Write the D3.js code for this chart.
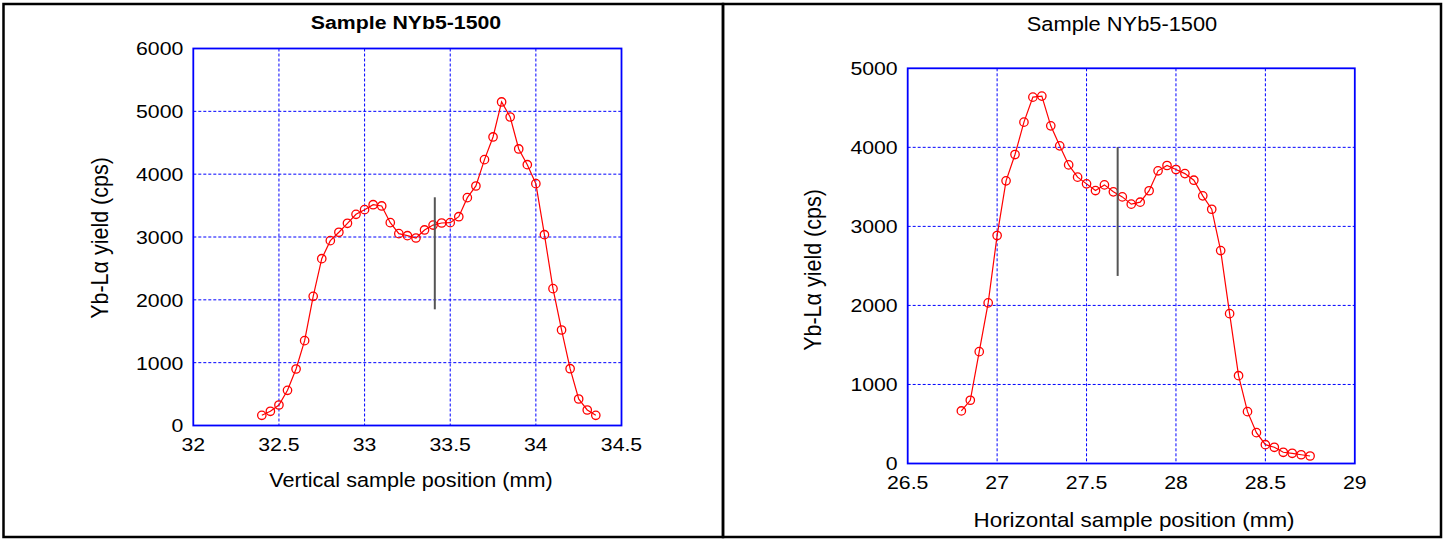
<!DOCTYPE html>
<html>
<head>
<meta charset="utf-8">
<script src="https://cdn.jsdelivr.net/npm/d3@7"></script>
<style>
  body { margin: 0; background: #fff; }
  svg text { font-family: "Liberation Sans", Arial, sans-serif; fill: #000; }
</style>
</head>
<body>
<div id="chart"></div>
<script>
// Yb-La yield scans, sample NYb5-1500

var vertPos = [32.40, 32.45, 32.50, 32.55, 32.60, 32.65, 32.70, 32.75, 32.80, 32.85,
               32.90, 32.95, 33.00, 33.05, 33.10, 33.15, 33.20, 33.25, 33.30, 33.35,
               33.40, 33.45, 33.50, 33.55, 33.60, 33.65, 33.70, 33.75, 33.80, 33.85,
               33.90, 33.95, 34.00, 34.05, 34.10, 34.15, 34.20, 34.25, 34.30, 34.35];
var vertYield = [162, 226, 326, 560, 899, 1350, 2056, 2655, 2942, 3075,
                 3218, 3361, 3435, 3514, 3494, 3228, 3053, 3021, 2984, 3112,
                 3190, 3223, 3228, 3323, 3626, 3812, 4231, 4592, 5149, 4910,
                 4401, 4151, 3849, 3037, 2178, 1520, 904, 422, 247, 162];

var horizPos = [26.80, 26.85, 26.90, 26.95, 27.00, 27.05, 27.10, 27.15, 27.20, 27.25,
                27.30, 27.35, 27.40, 27.45, 27.50, 27.55, 27.60, 27.65, 27.70, 27.75,
                27.80, 27.85, 27.90, 27.95, 28.00, 28.05, 28.10, 28.15, 28.20, 28.25,
                28.30, 28.35, 28.40, 28.45, 28.50, 28.55, 28.60, 28.65, 28.70, 28.75];
var horizYield = [665, 800, 1415, 2032, 2884, 3576, 3909, 4319, 4635, 4648,
                  4272, 4019, 3778, 3623, 3538, 3453, 3525, 3437, 3373, 3281,
                  3306, 3451, 3703, 3770, 3719, 3668, 3584, 3386, 3217, 2694,
                  1896, 1111, 656, 390, 238, 205, 142, 129, 111, 95];

var vertTicksX = [32, 32.5, 33, 33.5, 34, 34.5];
var vertTicksY = [0, 1000, 2000, 3000, 4000, 5000, 6000];
var horizTicksX = [26.5, 27, 27.5, 28, 28.5, 29];
var horizTicksY = [0, 1000, 2000, 3000, 4000, 5000];

// marker lines (position, from, to)
var vertMarker = [33.41, 1849, 3632];
var horizMarker = [27.674, 2373, 4003];

var svg = d3.select("#chart").append("svg")
    .attr("width", 1452)
    .attr("height", 539);

// panel frames
svg.append("rect").attr("x", 3.5).attr("y", 4).attr("width", 719.5).attr("height", 533)
    .attr("fill", "none").attr("stroke", "#000").attr("stroke-width", 2.5);
svg.append("rect").attr("x", 723).attr("y", 4).attr("width", 718).attr("height", 533)
    .attr("fill", "none").attr("stroke", "#000").attr("stroke-width", 2.5);

// text is a bit wide in the original, so stretch it a little
function label(g, x, y, s, opts) {
    opts = opts || {};
    var sx = 1.12;
    var t = g.append("text")
        .attr("transform", "translate(" + x + "," + y + ")" + (opts.rotate ? " rotate(-90)" : "") +
              (opts.rotate ? " scale(1," + sx + ")" : " scale(" + sx + ",1)"))
        .attr("text-anchor", opts.anchor || "middle")
        .style("font-size", (opts.size || 19) + "px")
        .style("font-weight", opts.bold ? "bold" : "normal")
        .text(s);
    if (opts.dy) t.attr("dy", opts.dy);
    return t;
}

function drawPanel(cfg) {
    var g = svg.append("g");
    var x = d3.scaleLinear().domain(cfg.xDomain).range([cfg.left, cfg.right]);
    var y = d3.scaleLinear().domain(cfg.yDomain).range([cfg.bottom, cfg.top]);

    // grid
    g.append("g").selectAll("line.gx")
        .data(cfg.xTicks.slice(1, -1))
        .enter().append("line")
        .attr("x1", function(d) { return x(d); }).attr("x2", function(d) { return x(d); })
        .attr("y1", cfg.top).attr("y2", cfg.bottom)
        .attr("stroke", "#0000ff").attr("stroke-width", 1).attr("stroke-dasharray", "3,2");
    g.append("g").selectAll("line.gy")
        .data(cfg.yTicks.slice(1, -1))
        .enter().append("line")
        .attr("y1", function(d) { return y(d); }).attr("y2", function(d) { return y(d); })
        .attr("x1", cfg.left).attr("x2", cfg.right)
        .attr("stroke", "#0000ff").attr("stroke-width", 1).attr("stroke-dasharray", "3,2");

    // box
    g.append("rect")
        .attr("x", cfg.left).attr("y", cfg.top)
        .attr("width", cfg.right - cfg.left).attr("height", cfg.bottom - cfg.top)
        .attr("fill", "none").attr("stroke", "#0000ff").attr("stroke-width", 1.8);

    // tick labels
    cfg.xTicks.forEach(function(d) {
        label(g, x(d), cfg.bottom + 25.5, d3.format("")(d));
    });
    cfg.yTicks.forEach(function(d) {
        label(g, cfg.left - 10, y(d), d, {anchor: "end", dy: "0.36em"});
    });

    // data line + circles
    var pts = cfg.xs.map(function(d, i) { return [d, cfg.ys[i]]; });
    var line = d3.line().x(function(d) { return x(d[0]); }).y(function(d) { return y(d[1]); });
    g.append("path").datum(pts)
        .attr("d", line)
        .attr("fill", "none").attr("stroke", "#ff0000").attr("stroke-width", 1.2);
    g.append("g").selectAll("circle")
        .data(pts)
        .enter().append("circle")
        .attr("cx", function(d) { return x(d[0]); })
        .attr("cy", function(d) { return y(d[1]); })
        .attr("r", 4.2)
        .attr("fill", "none").attr("stroke", "#ff0000").attr("stroke-width", 1.3);

    // vertical marker
    g.append("line")
        .attr("x1", x(cfg.marker[0])).attr("x2", x(cfg.marker[0]))
        .attr("y1", y(cfg.marker[1])).attr("y2", y(cfg.marker[2]))
        .attr("stroke", "#555").attr("stroke-width", 2);

    // titles
    label(g, cfg.titleX, cfg.titleY, "Sample NYb5-1500", {size: cfg.titleSize, bold: cfg.boldTitle});
    label(g, cfg.xLabelX, cfg.xLabelY, cfg.xLabel, {size: cfg.xLabelSize});
    label(g, cfg.yLabelX, cfg.yLabelY, "Yb-L\u03b1 yield (cps)", {rotate: true, size: 21.5});
}

drawPanel({
    xDomain: [32, 34.5], yDomain: [0, 6000],
    left: 193.3, right: 621.5, top: 48.5, bottom: 425.5,
    xTicks: vertTicksX, yTicks: vertTicksY,
    xs: vertPos, ys: vertYield, marker: vertMarker,
    titleX: 406, titleY: 29, titleSize: 19, boldTitle: true,
    xLabel: "Vertical sample position (mm)", xLabelX: 411, xLabelY: 487, xLabelSize: 19.3,
    yLabelX: 108, yLabelY: 238
});

drawPanel({
    xDomain: [26.5, 29], yDomain: [0, 5000],
    left: 907.7, right: 1354.8, top: 68.3, bottom: 463.5,
    xTicks: horizTicksX, yTicks: horizTicksY,
    xs: horizPos, ys: horizYield, marker: horizMarker,
    titleX: 1122, titleY: 31, titleSize: 19.5, boldTitle: false,
    xLabel: "Horizontal sample position (mm)", xLabelX: 1134, xLabelY: 527, xLabelSize: 20,
    yLabelX: 821, yLabelY: 270
});
</script>
</body>
</html>
